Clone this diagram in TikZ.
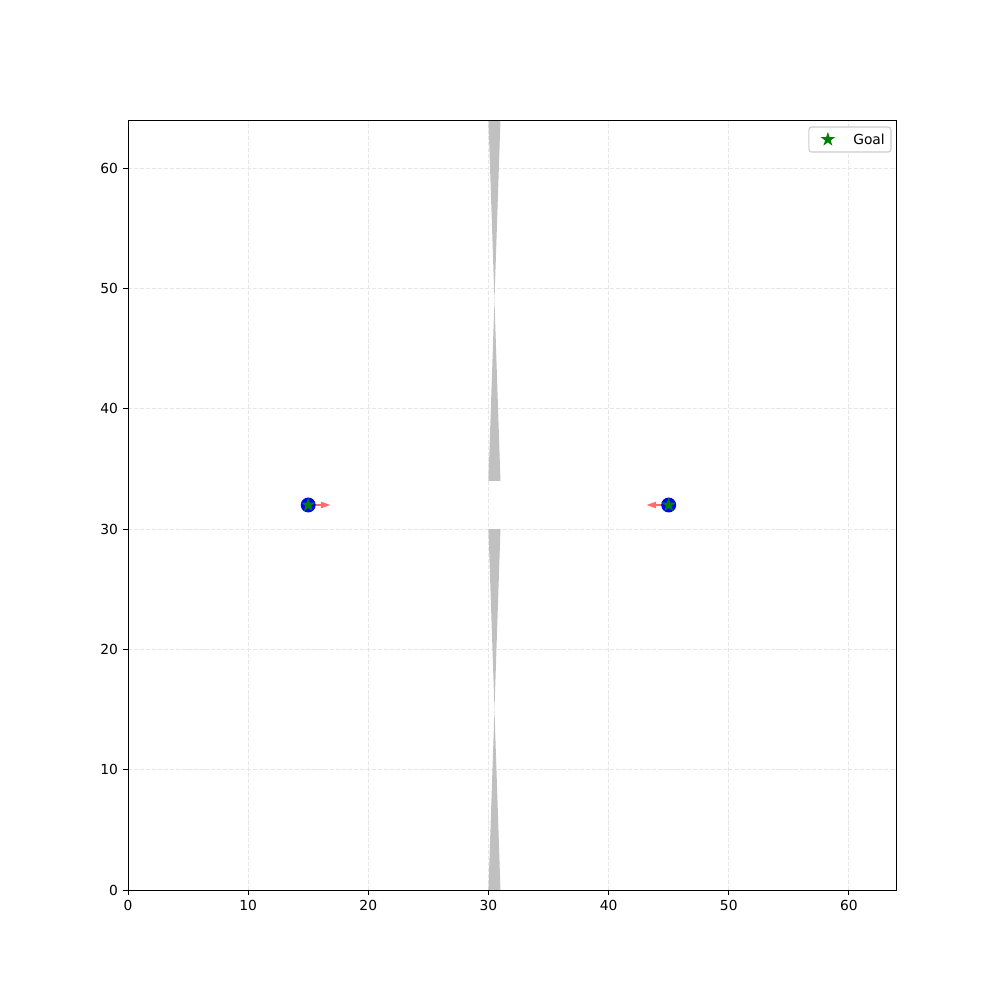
\documentclass[tikz,border=0pt]{standalone}
\usepackage{fontspec}
\setmainfont{DejaVu Sans}
\usepackage{xcolor}
\usetikzlibrary{arrows.meta, positioning, shapes.geometric}
\definecolor{wallgray}{HTML}{C0C0C0}
\definecolor{gridgray}{HTML}{E6E6E6}
\definecolor{agentblue}{HTML}{0000FF}
\definecolor{goalgreen}{HTML}{008000}
\definecolor{headred}{HTML}{FF6A6A}
\tikzset{
  gridline/.style={gridgray, line width=0.8pt, dash pattern=on 3pt off 1.3pt},
  wall/.style={fill=wallgray, draw=none},
  agent/.style={circle, fill=agentblue, draw=none, inner sep=0pt, minimum size=10.8pt},
  goalstar/.style={star, star points=5, star point ratio=2.618, fill=goalgreen, draw=none,
    inner sep=0pt, minimum size=11pt},
  heading/.style={headred, line width=1.1pt, -{Triangle[length=7pt, width=4.6pt]}},
  ticklabel/.style={font=\fontsize{10}{12}\selectfont, inner sep=0pt},
  legendbox/.style={draw=black!20, fill=white, rounded corners=2pt, line width=0.8pt}
}

\begin{document}
\begin{tikzpicture}[x=0.30521cm, y=0.30560cm]
  \useasboundingbox (-10.652,-9.143) rectangle (72.570,73.976);

  %% grid
  \foreach \v in {10,20,...,60} {
    \draw[gridline] (\v,0) -- (\v,64);
    \draw[gridline] (0,\v) -- (64,\v);
  }

  %% wall with gap at 30..34
  \fill[wall] (30,64) -- (31,64) -- (30.5,49) -- cycle;
  \fill[wall] (30.5,49) -- (31,34) -- (30,34) -- cycle;
  \fill[wall] (30,30) -- (31,30) -- (30.5,15) -- cycle;
  \fill[wall] (30.5,15) -- (31,0) -- (30,0) -- cycle;

  %% agents, headings and goals
  \foreach \nm/\x/\hx in {L/15/16.85, R/45/43.15} {
    \coordinate (pos\nm) at (\x,32);
    \coordinate (head\nm) at (\hx,32);
    \draw[heading] (pos\nm) -- (head\nm);
    \node[agent] (agent\nm) at (pos\nm) {};
    \node[goalstar] (goal\nm) at (agent\nm) {};
  }

  %% frame and ticks
  \draw[line width=0.7pt] (0,0) rectangle (64,64);
  \foreach \v in {0,10,...,60} {
    \draw[line width=0.7pt] (\v,0) -- ++(0,-3.5pt);
    \node[ticklabel, anchor=north] (xl\v) at ([yshift=-7pt]\v,0) {\v};
    \draw[line width=0.7pt] (0,\v) -- ++(-3.5pt,0);
    \node[ticklabel, anchor=east] (yl\v) at ([xshift=-7pt]0,\v) {\v};
  }

  %% legend
  \draw[legendbox] (56.67,61.34) rectangle (63.5,63.42);
  \node[goalstar] (legstar) at (58.25,62.38) {};
  \node[ticklabel, anchor=west] (legtext) at (60.34,62.38) {Goal};

\end{tikzpicture}
\end{document}
